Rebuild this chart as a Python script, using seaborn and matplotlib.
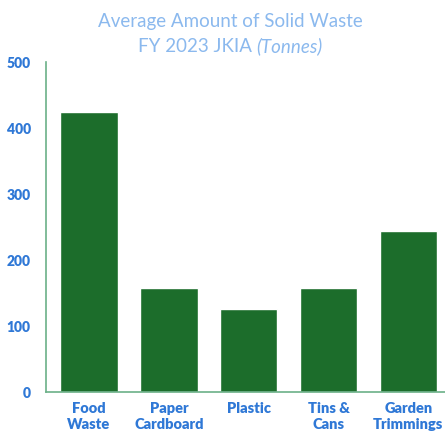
import matplotlib
matplotlib.use("Agg")
import matplotlib.pyplot as plt
import seaborn as sns
import pandas as pd

# datos del gráfico (toneladas)
categorias = ["Food\nWaste", "Paper\nCardboard", "Plastic", "Tins &\nCans", "Garden\nTrimmings"]
toneladas = [424, 158, 126, 158, 244]
marcas_y = [0, 100, 200, 300, 400, 500]

verde = "#1c6d2b"
azul = "#2f78d6"
azul_claro = "#8bb9ee"
eje = "#6bb088"

sns.set_style("white")
plt.rcParams["font.family"] = ["Lato", "DejaVu Sans"]

df = pd.DataFrame({"categoria": categorias, "toneladas": toneladas})

fig = plt.figure(figsize=(4.45, 4.34), dpi=100)
ax = fig.add_axes([46 / 445, (434 - 392) / 434, (445 - 46) / 445, 330 / 434])

sns.barplot(data=df, x="categoria", y="toneladas", color=verde, width=0.72,
            saturation=1, ax=ax)

ax.set_xlim(-0.54, 4.46)
ax.set_ylim(0, 500)
ax.set_yticks(marcas_y)
ax.set_yticklabels([str(v) for v in marcas_y], color=azul, fontweight="heavy", fontsize=10)
ax.set_xticklabels(categorias, color=azul, fontweight="heavy", fontsize=10.5, linespacing=1.3)
ax.tick_params(axis="both", length=0)
ax.tick_params(axis="y", pad=11)
ax.tick_params(axis="x", pad=7)
ax.set_xlabel("")
ax.set_ylabel("")

for lado in ["top", "right"]:
    ax.spines[lado].set_visible(False)
for lado in ["left", "bottom"]:
    ax.spines[lado].set_color(eje)
    ax.spines[lado].set_linewidth(1.2)

# título en dos líneas, la segunda con parte en cursiva
fig.text(230 / 445, 1 - 21 / 434, "Average Amount of Solid Waste", ha="center", va="center",
         color=azul_claro, fontsize=13.5)
fig.canvas.draw()
r = fig.canvas.get_renderer()
t1 = fig.text(0, 1 - 46 / 434, "FY 2023 JKIA ", ha="left", va="center",
              color=azul_claro, fontsize=13.5)
t2 = fig.text(0, 1 - 46 / 434, "(Tonnes)", ha="left", va="center",
              color=azul_claro, fontsize=13.5, style="italic")
w1 = t1.get_window_extent(r).width
w2 = t2.get_window_extent(r).width
x0 = 230 - (w1 + w2) / 2
t1.set_x(x0 / 445)
t2.set_x((x0 + w1) / 445)

fig.savefig("out.png", dpi=100)
